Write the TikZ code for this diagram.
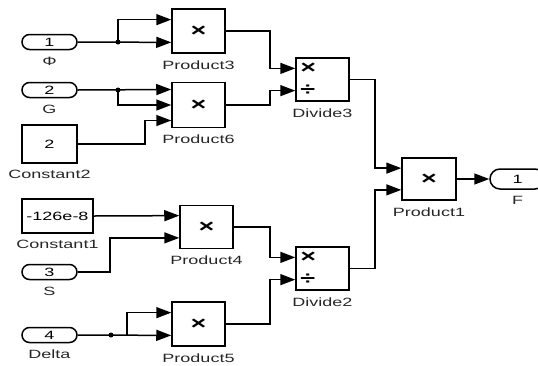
\documentclass[tikz,border=0pt]{standalone}
\usepackage{fontspec}
\setmainfont{Liberation Sans}[FakeStretch=1.5]
\usetikzlibrary{arrows.meta,calc}
\begin{document}
\begin{tikzpicture}[x=1pt,y=-1pt,
  font=\fontsize{12}{13}\selectfont,
  blk/.style={draw, line width=1.5pt, fill=white, minimum width=53pt,
              minimum height=44pt, inner sep=0pt, font=\fontsize{18}{18}\selectfont\bfseries},
  cst/.style={draw, line width=1.5pt, fill=white, inner sep=0pt},
  pill/.style={draw, line width=1.5pt, rounded corners=7.5pt, minimum width=55pt,
               minimum height=15pt, inner sep=0pt},
  lbl/.style={inner sep=0pt, text=black!85, font=\fontsize{12}{13}\selectfont},
  under/.style={label={[lbl,label distance=6.5pt]below:#1}},
  wire/.style={line width=1.5pt},
  arr/.style={wire, -{Triangle[length=15pt,width=11pt]}},
  dot/.style={circle, fill, inner sep=0pt, minimum size=5pt},
  op/.style={inner sep=0pt, anchor=west, font=\fontsize{18}{18}\selectfont\bfseries}
]
\clip (0,0) rectangle (538,365);

% sources
\node[pill, under=Φ]     (in1) at (49.5,42)  {1};
\node[pill, under=G]     (in2) at (49.5,90)  {2};
\node[cst, minimum width=55pt, minimum height=38pt, under=Constant2] (c2) at (49.5,144) {2};
\node[cst, minimum width=71pt, minimum height=34pt, under=Constant1] (c1) at (57.5,216) {-126e-8};
\node[pill, under=S]     (in3) at (49.5,272) {3};
\node[pill, under=Delta] (in4) at (49.5,335) {4};

% product blocks
\node[blk, under=Product3] (p3) at (198.5,31) {×};
\node[blk, minimum height=45pt, under=Product6] (p6) at (198.5,105) {×};
\node[blk, minimum height=43pt, under=Product4] (p4) at (206.5,226.75) {×};
\node[blk, under=Product5] (p5) at (198.5,324) {×};

% divide blocks
\node[blk, minimum height=43pt, under=Divide3] (d3) at (322.5,79.5) {};
\node[blk, minimum height=43pt, under=Divide2] (d2) at (322.5,268.5) {};

\node[blk, minimum width=54pt, minimum height=42pt, under=Product1] (p1) at (429,179) {×};

% sink
\node[pill, rounded corners=10pt, minimum height=20pt, under=F] (out) at (517.5,179) {1};

% input ports
\coordinate (p3a) at ($(p3.north west)!0.25!(p3.south west)$);
\coordinate (p3b) at ($(p3.north west)!0.75!(p3.south west)$);
\coordinate (p6a) at ($(p6.north west)!1/6!(p6.south west)$);
\coordinate (p6b) at ($(p6.north west)!0.5!(p6.south west)$);
\coordinate (p6c) at ($(p6.north west)!5/6!(p6.south west)$);
\coordinate (p4a) at ($(p4.north west)!0.25!(p4.south west)$);
\coordinate (p4b) at ($(p4.north west)!0.75!(p4.south west)$);
\coordinate (p5a) at ($(p5.north west)!0.25!(p5.south west)$);
\coordinate (p5b) at ($(p5.north west)!0.75!(p5.south west)$);
\coordinate (d3a) at ($(d3.north west)!0.25!(d3.south west)$);
\coordinate (d3b) at ($(d3.north west)!0.75!(d3.south west)$);
\coordinate (d2a) at ($(d2.north west)!0.25!(d2.south west)$);
\coordinate (d2b) at ($(d2.north west)!0.75!(d2.south west)$);
\coordinate (p1a) at ($(p1.north west)!0.25!(p1.south west)$);
\coordinate (p1b) at ($(p1.north west)!0.75!(p1.south west)$);

% operator signs of the divide blocks
\node[op] (d3m) at ($(d3a)+(5,0)$) {×};
\node[op] (d3d) at ($(d3b)+(5,0)$) {÷};
\node[op] (d2m) at ($(d2a)+(5,0)$) {×};
\node[op] (d2d) at ($(d2b)+(5,0)$) {÷};

% vertical routing columns
\coordinate (colc) at (145,0);
\coordinate (cols) at (110,0);
\coordinate (colm) at (270,0);
\coordinate (colr) at (375,0);

% branch points
\node[dot] (j1) at (118,42) {};
\node[dot] (j2) at (118,90) {};
\node[dot] (j4) at (111,335) {};
\coordinate (j5) at (127,335);

% wires
\draw[arr] (in1.east) -- (p3b);
\draw[arr] (j1.center) |- (p3a);
\draw[arr] (in2.east) -- (p6a);
\draw[arr] (j2.center) |- (p6b);
\draw[arr] (c2.east) -- (c2.east -| colc) |- (p6c);
\draw[arr] (c1.east) -- (p4a);
\draw[arr] (in3.east) -- (in3.east -| cols) |- (p4b);
\draw[arr] (in4.east) -- (p5b);
\draw[arr] (j5) |- (p5a);

\draw[arr] (p3.east) -- (p3.east -| colm) |- (d3a);
\draw[arr] (p6.east) -- (p6.east -| colm) |- (d3b);
\draw[arr] (p4.east) -- (p4.east -| colm) |- (d2a);
\draw[arr] (p5.east) -- (p5.east -| colm) |- (d2b);

\draw[arr] (d3.east) -- (d3.east -| colr) |- (p1a);
\draw[arr] (d2.east) -- (d2.east -| colr) |- (p1b);

\draw[arr] (p1.east) -- (out.west);
\end{tikzpicture}
\end{document}
